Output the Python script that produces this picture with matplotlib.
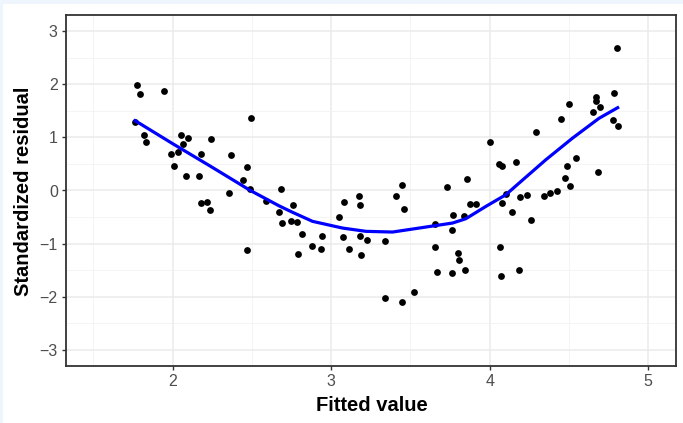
import numpy as np
import matplotlib
matplotlib.use("Agg")
import matplotlib.pyplot as plt
from matplotlib.patches import Rectangle

fitted = [1.776, 1.796, 1.946, 1.763, 1.822, 1.832, 2.496, 2.050, 2.097, 2.244,
          2.063, 2.036, 1.992, 2.179, 2.370, 2.009, 2.466, 2.082, 2.164, 2.445,
          2.490, 2.355, 2.685, 2.590, 2.756, 3.078, 3.174, 3.181, 2.176, 2.217,
          2.235, 2.466, 2.672, 2.689, 2.746, 2.786, 2.813, 2.790, 2.878, 2.939,
          2.935, 3.046, 3.074, 3.115, 3.183, 3.185, 3.223, 3.342, 3.342, 3.447,
          3.521, 3.410, 3.445, 3.460, 3.657, 3.657, 3.670, 3.760, 3.846, 3.798,
          3.807, 3.762, 3.768, 3.838, 3.731, 3.857, 3.876, 3.914, 4.063, 4.069,
          4.187, 4.057, 4.078, 4.164, 4.105, 4.076, 4.141, 4.189, 4.233, 4.258,
          4.340, 4.380, 4.424, 4.473, 4.506, 4.489, 4.546, 4.682, 4.804, 4.783,
          4.670, 4.668, 4.697, 4.649, 4.498, 4.447, 4.777, 4.807, 4.290, 4.004]
std_resid = [1.976, 1.808, 1.869, 1.283, 1.044, 0.919, 1.357, 1.044, 0.988, 0.975,
             0.876, 0.720, 0.682, 0.694, 0.669, 0.469, 0.444, 0.276, 0.276, 0.206,
             0.019, -0.056, 0.019, -0.193, -0.274, -0.218, -0.112, -0.281, -0.244, -0.212,
             -0.362, -1.125, -0.399, -0.612, -0.568, -0.587, -0.818, -1.187, -1.037, -0.849,
             -1.099, -0.493, -0.874, -1.106, -0.849, -1.219, -0.924, -0.943, -2.018, -2.093,
             -1.905, -0.112, 0.101, -0.349, -0.637, -1.069, -1.531, -1.543, -1.500, -1.168,
             -1.300, -0.750, -0.456, -0.474, 0.075, 0.219, -0.249, -0.256, -1.069, -1.612,
             -1.500, 0.495, 0.469, 0.532, -0.068, -0.244, -0.412, -0.118, -0.081, -0.555,
             -0.105, -0.056, -0.011, 0.232, 0.094, 0.463, 0.607, 0.356, 2.676, 1.826,
             1.757, 1.688, 1.563, 1.482, 1.632, 1.344, 1.326, 1.213, 1.101, 0.907]

# smoothed trend line
smooth_x = [1.763, 2.000, 2.236, 2.490, 2.672, 2.756, 2.882, 3.071, 3.219, 3.387,
            3.555, 3.765, 3.849, 3.975, 4.101, 4.185, 4.353, 4.521, 4.689, 4.807]
smooth_y = [1.313, 0.880, 0.460, 0.000, -0.290, -0.410, -0.580, -0.706, -0.768, -0.781,
            -0.706, -0.612, -0.531, -0.300, -0.081, 0.139, 0.576, 0.982, 1.357, 1.557]

x_ticks = [2, 3, 4, 5]
y_ticks = [-3, -2, -1, 0, 1, 2, 3]

plt.rcParams['font.family'] = ['Liberation Sans', 'DejaVu Sans']
fig = plt.figure(figsize=(6.83, 4.23), dpi=100, facecolor='white')
fig.patches.append(Rectangle((0, 1 - 4 / 423), 1, 4 / 423, transform=fig.transFigure,
                             facecolor='#eef5fc', edgecolor='none', zorder=-10))
fig.patches.append(Rectangle((0, 0), 3 / 683, 1, transform=fig.transFigure,
                             facecolor='#eef5fc', edgecolor='none', zorder=-10))

ax = fig.add_axes([65.7 / 683, (423 - 366) / 423, (676 - 65.7) / 683, (366 - 15) / 423])
ax.set_xlim(1.325, 5.175)
ax.set_ylim(-3.3, 3.3)

ax.set_xticks(x_ticks)
ax.set_yticks(y_ticks)
ax.set_yticklabels([str(v).replace('-', '\u2212') for v in y_ticks])
ax.set_xticks([1.5, 2.5, 3.5, 4.5], minor=True)
ax.set_yticks([-2.5, -1.5, -0.5, 0.5, 1.5, 2.5], minor=True)
ax.grid(which='major', color='#EBEBEB', linewidth=1.1)
ax.grid(which='minor', color='#F2F2F2', linewidth=0.6)
ax.set_axisbelow(True)
ax.tick_params(which='major', length=3.2, width=1.0, color='#333333',
               labelsize=11.5, labelcolor='#4D4D4D', pad=2.5)
ax.tick_params(which='minor', length=0)
for s in ax.spines.values():
    s.set_color('#333333')
    s.set_linewidth(1.3)

ax.scatter(fitted, std_resid, s=24, color='black', zorder=3, linewidths=0)
ax.plot(smooth_x, smooth_y, color='#0000FF', linewidth=2.3, zorder=4,
        solid_joinstyle='round')

fig.text(371.5 / 683, (423 - 410.7) / 423, 'Fitted value', fontsize=14.5,
         fontweight='bold', ha='center', va='baseline')
fig.text(23.3 / 683, (423 - 191) / 423, 'Standardized residual', fontsize=14.5,
         fontweight='bold', ha='center', va='center', rotation=90)

fig.savefig('out.png', dpi=100, facecolor=fig.get_facecolor())
